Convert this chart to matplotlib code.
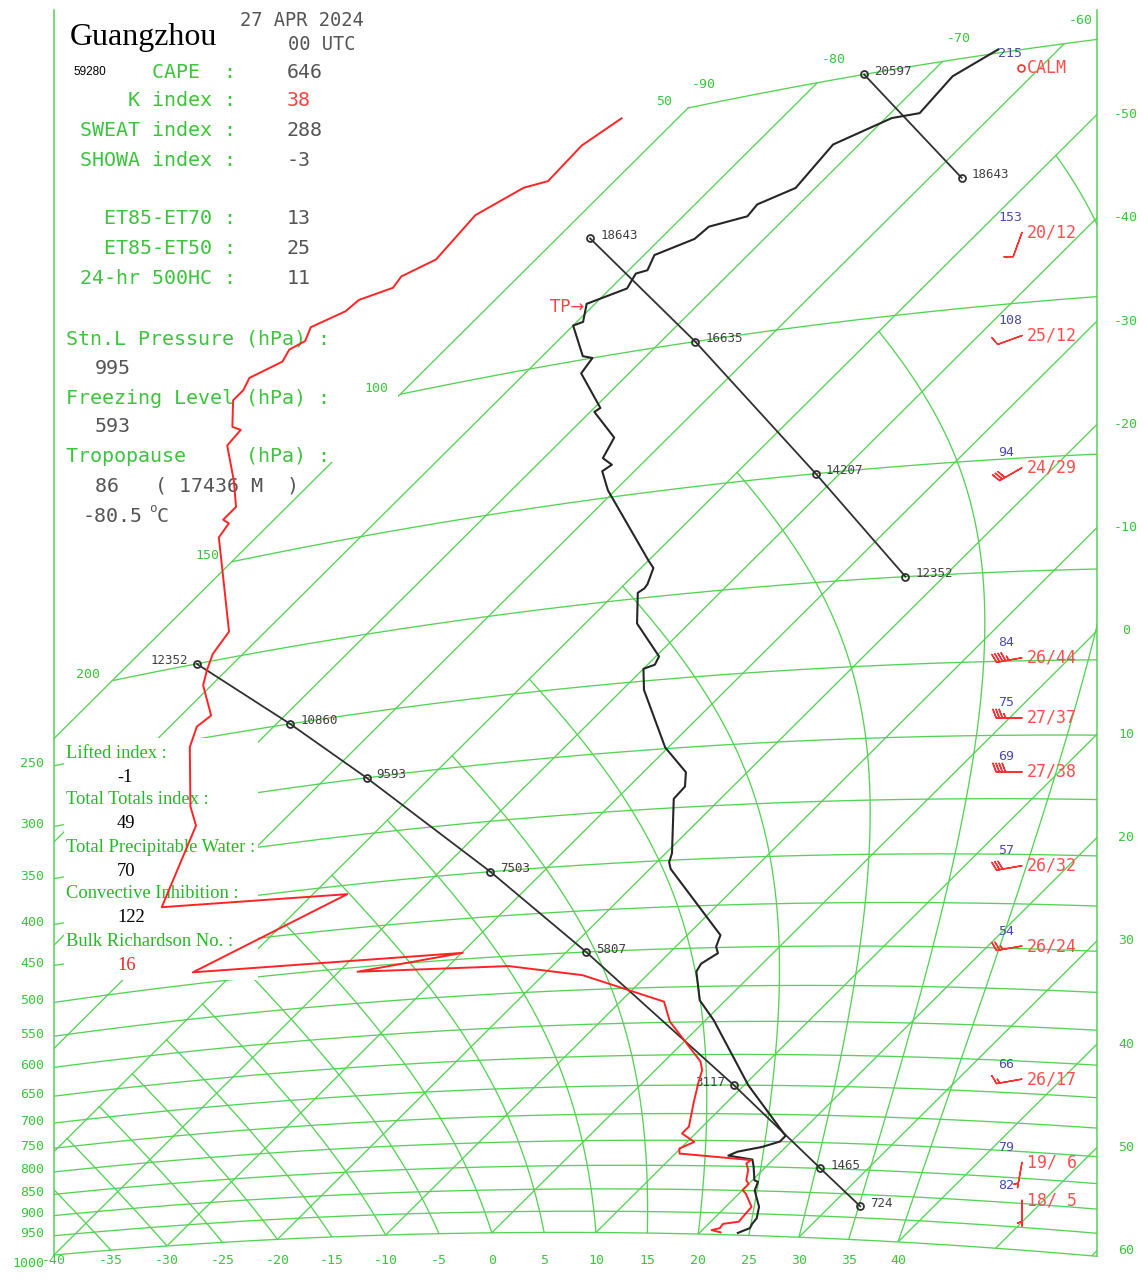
import numpy as np
import matplotlib
matplotlib.use("Agg")
import matplotlib.pyplot as plt
from matplotlib.path import Path
from matplotlib.patches import Rectangle

# ---- Guangzhou 59280, 27 APR 2024 00 UTC sounding ----
temp_p = [995, 988, 983, 973, 960, 934, 913, 899, 881, 878, 850, 836, 829, 821, 811, 800, 789,
          700, 598, 569, 546, 530, 520, 507, 499, 485, 409, 402, 393, 342, 332, 320, 299,
          256, 242, 240, 235, 214, 197, 195, 193, 185, 181, 147, 139, 137, 134, 127, 117, 116,
          104, 100, 99, 90, 89.5, 85, 83, 79.8, 79.5, 76.3, 74.3, 72.2, 71.4, 69.3, 67.3,
          60.4, 57.5, 57.4, 52.4, 49.5]
temp_t = [23.7, 24.1, 24.4, 24.2, 24.1, 23.2, 22.0, 21.2, 20.7, 20.2, 18.8, 18.0, 15.3, 15.8, 17.7, 18.9, 18.9,
          10.4, 0.8, -2.5, -4.3, -5.6, -5.9, -5.3, -6.1, -6.8, -18.0, -18.8, -19.4, -24.5, -24.6, -25.9, -30.3,
          -37.9, -40.0, -39.3, -39.7, -45.0, -47.9, -47.7, -47.8, -48.8, -50.0, -60.7, -63.1, -62.8, -64.3, -65.2, -69.6, -69.4,
          -74.6, -75.0, -76.1, -80.0, -79.4, -80.8, -78.4, -79.0, -78.2, -79.0, -76.7, -76.5, -73.8, -74.0, -71.9,
          -72.5, -69.4, -67.2, -67.6, -65.8]

dewp_p = [995, 990, 985, 975, 969, 935, 907, 899, 886, 878, 857, 844, 837, 826, 816, 803, 787, 774,
          732, 697, 675, 661, 599, 570, 530, 513, 506, 492, 484, 410, 399, 321, 303, 255, 241, 235,
          214, 205, 196, 185, 138, 133, 131, 127, 117, 104, 100, 98.4, 90.4, 88.2, 85.2, 83.0, 80.3,
          79.1, 76.0, 74.2, 72.3, 71.4, 69.3, 67.4, 60.3, 57.3, 57.1, 52.3, 49.4]
dewp_t = [22.0, 20.9, 21.5, 21.4, 22.7, 22.5, 20.7, 20.0, 20.0, 19.4, 18.6, 17.8, 17.9, 10.4, 9.9, 10.7, 8.7, 8.7,
          6.9, 5.4, 4.5, 3.5, -3.3, -5.8, -16.2, -24.2, -38.2, -29.9, -54.0, -46.7, -63.3, -67.9, -70.3, -76.1, -77.4, -77.1,
          -80.8, -81.9, -82.9, -83.5, -93.6, -94.0, -94.9, -94.9, -97.6, -101.7, -101.9, -103.0, -105.5, -105.5, -106.1, -104.5, -105.0,
          -104.3, -105.1, -103.3, -103.1, -101.0, -101.3, -99.6, -100.1, -98.1, -96.4, -96.6, -95.4]

# standard-level heights, drawn as a wrapped line (three pieces)
hgt_p1 = [925, 850, 700, 500, 400, 300, 250, 200]
hgt_z1 = [724, 1465, 3117, 5807, 7503, 9593, 10860, 12352]
hgt_t1 = [32.9, 25.4, 9.0, -18.1, -35.1, -56.1, -68.7, -83.5]
hgt_p2 = [200, 150, 100, 70]
hgt_z2 = [12352, 14207, 16635, 18643]
hgt_t2 = [-23.7, -42.3, -66.7, -86.8]
hgt_p3 = [70, 50]
hgt_z3 = [18643, 20597]
hgt_t3 = [-56.9, -76.3]

wind_p = [50, 70, 100, 150, 200, 250, 300, 400, 500, 700, 850, 925]
wind_dir = [0, 200, 250, 240, 260, 270, 270, 260, 260, 260, 190, 180]
wind_spd = [0, 12, 12, 29, 44, 37, 38, 32, 24, 17, 6, 5]
wind_tag = [215, 153, 108, 94, 84, 75, 69, 57, 54, 66, 79, 82]

trop_p, trop_t = 86, -80.5

isobars = [1000, 950, 900, 850, 800, 750, 700, 650, 600, 550, 500, 450, 400, 350, 300, 250, 200, 150, 100, 50]
isotherms = list(range(-80, 61, 10))
moist_t0 = np.arange(-35, 41, 5)

index_rows = [("      CAPE  :", "646", "#555555"),
              ("    K index :", "38", "#ff4040"),
              ("SWEAT index :", "288", "#555555"),
              ("SHOWA index :", "-3", "#555555"),
              ("  ET85-ET70 :", "13", "#555555"),
              ("  ET85-ET50 :", "25", "#555555"),
              ("24-hr 500HC :", "11", "#555555")]
index_y = [72, 101, 131, 161, 219, 249, 279]

lower_rows = [("Lifted index :", "-1", "black"),
              ("Total Totals index :", "49", "black"),
              ("Total Precipitable Water :", "70", "black"),
              ("Convective Inhibition :", "122", "black"),
              ("Bulk Richardson No. :", "16", "#ff2020")]

# ---- tephigram geometry (pixel frame of the picture) ----
KAPPA = 0.2857
X0, Y0 = 491.8, 1232.8
A, B, C, D = 5.1883, 1454.0, 5.1696, -1446.0
XL, XR = 54, 1097

GRID = "#55d255"
GTXT = "#3cc43c"
MONO = "DejaVu Sans Mono"
SERIF = "Liberation Serif"
CHAR_W = 0.602 * 14.4 * 100 / 72   # mono advance at 14.4 pt


def teph(t, p):
    t = np.asarray(t, float)
    p = np.asarray(p, float)
    lth = np.log((t + 273.15) / 273.15) + KAPPA * np.log(1000.0 / p)
    return X0 + A * t + B * lth, Y0 + C * t + D * lth


def t_at_x(p, xt):
    tg = np.linspace(-140, 90, 4001)
    xg, _ = teph(tg, p)
    return np.interp(xt, xg, tg)


def p_at_x(t, xt):
    pg = np.geomspace(1100, 20, 4001)
    xg, _ = teph(t, pg)
    return np.interp(xt, xg, pg)


def sat_lapse(tk, p):
    tc = tk - 273.15
    es = 6.112 * np.exp(17.67 * tc / (tc + 243.5))
    rs = 0.622 * es / (p - es)
    num = 287.04 * tk + 2.501e6 * rs
    den = 1005.7 + 2.501e6 ** 2 * rs * 0.622 / (287.04 * tk * tk)
    return num / den / p


fig = plt.figure(figsize=(11.44, 12.81), dpi=100)
ax = fig.add_axes([0, 0, 1, 1])
ax.set_xlim(0, 1144)
ax.set_ylim(1281, 0)
ax.axis("off")

# clip region of the grid
tb = np.linspace(t_at_x(1000, XL), t_at_x(1000, XR), 300)
tt = np.linspace(t_at_x(50, XR), -90, 200)
pv = np.geomspace(50, p_at_x(-90, XL), 200)
bx, by = teph(tb, 1000)
tx, ty = teph(tt, 50)
vx, vy = teph(-90, pv)
verts = np.vstack([np.column_stack([bx, by]), np.column_stack([tx, ty]),
                   np.column_stack([vx, vy]), [[bx[0], by[0]]]])
clip = Path(verts, closed=True)


def grid_line(x, y, clipped=True):
    ln, = ax.plot(x, y, color=GRID, lw=0.95, zorder=1)
    if clipped:
        ln.set_clip_path(clip, ax.transData)


# boundary lines
grid_line(bx, by, False)
grid_line(tx, ty, False)
grid_line(vx, vy, False)
ax.plot([XL, XL], [10, by[0]], color=GRID, lw=1.1, zorder=1)
ax.plot([XR, XR], [10, by[-1]], color=GRID, lw=1.1, zorder=1)

for p in isobars[1:-1]:
    x, y = teph(np.linspace(-100, 75, 400), p)
    grid_line(x, y)
for t in isotherms:
    x, y = teph(t, np.geomspace(1050, 40, 120))
    grid_line(x, y)

# saturated adiabats from 1000 hPa up to the -50 C isotherm
pm = np.linspace(1000, 50, 1901)
tk = np.empty((len(pm), len(moist_t0)))
tk[0] = moist_t0 + 273.15
for i in range(1, len(pm)):
    dp = pm[i] - pm[i - 1]
    k1 = sat_lapse(tk[i - 1], pm[i - 1])
    k2 = sat_lapse(tk[i - 1] + dp * k1, pm[i])
    tk[i] = tk[i - 1] + 0.5 * dp * (k1 + k2)
for j in range(len(moist_t0)):
    tc = tk[:, j] - 273.15
    keep = tc >= -50
    n = np.argmin(keep) if not keep.all() else len(tc)
    pp = list(pm[:n])
    ts = list(tc[:n])
    if n < len(tc):
        f = (ts[-1] + 50) / (ts[-1] - tc[n])
        pp.append(pp[-1] + f * (pm[n] - pp[-1]))
        ts.append(-50.0)
    x, y = teph(ts, pp)
    grid_line(x, y)

# white panels behind the text blocks
ax.add_patch(Rectangle((64, 738), 194, 242, facecolor="white", edgecolor="none", zorder=2))
ax.add_patch(Rectangle((300, 388), 98, 74, facecolor="white", edgecolor="none", zorder=2))

# axis labels
for p in isobars[:16]:
    yl = teph(t_at_x(p, XL), p)[1]
    ax.text(44, yl + (9 if p == 1000 else -2), str(p), color=GTXT, fontsize=9.5, family=MONO,
            ha="right", va="center", zorder=3)
for p in [200, 150, 100, 50]:
    x, y = teph(-90, p)
    ax.text(x - 24, y - 6, str(p), color=GTXT, fontsize=9.5, family=MONO, ha="center", va="center", zorder=3)
for t in range(-40, 41, 5):
    x = teph(t, 1000)[0]
    ax.text(x, 1261, str(t), color=GTXT, fontsize=9.5, family=MONO, ha="center", va="center", zorder=3)
for t in range(-50, 61, 10):
    pg = np.geomspace(1100, 20, 4001)
    xg, yg = teph(t, pg)
    ax.text(1126, np.interp(XR, xg, yg), str(t), color=GTXT, fontsize=9.5, family=MONO,
            ha="center", va="center", zorder=3)
for t in [-90, -80, -70, -60]:
    x, y = teph(t, 50)
    ax.text(x + 16, y - 23, str(t), color=GTXT, fontsize=9.5, family=MONO, ha="center", va="center", zorder=3)

# height line with standard-level dots
hy = {}
for seg, (hp, hz, ht) in enumerate([(hgt_p1, hgt_z1, hgt_t1), (hgt_p2, hgt_z2, hgt_t2), (hgt_p3, hgt_z3, hgt_t3)]):
    x, y = teph(ht, hp)
    ax.plot(x, y, color="#303030", lw=1.3, zorder=4)
    ax.plot(x, y, "o", ms=5, mfc="none", mec="#303030", mew=1.3, zorder=5)
    for xi, yi, p, z in zip(x, y, hp, hz):
        left = seg == 0 and z in (3117, 12352)
        ax.text(xi - 9 if left else xi + 10, yi - 3, str(z), color="#404040", fontsize=9, family=MONO,
                ha="right" if left else "left", va="center", zorder=5)
        if seg == 0 or (seg == 1 and p != 200) or (seg == 2 and p == 50):
            hy[p] = yi

# temperature and dew point
x, y = teph(temp_t, temp_p)
ax.plot(x, y, color="#262626", lw=1.5, zorder=6)
x, y = teph(dewp_t, dewp_p)
ax.plot(x, y, color="#ff2424", lw=1.4, zorder=6)
x, y = teph(trop_t, trop_p)
ax.text(x - 1, y - 1, "TP\u2192", color="#ff4040", fontsize=12, family="DejaVu Sans",
        ha="right", va="center", zorder=7)

# winds
wx, wy, wu, wv = [], [], [], []
for p, d, s, tag in zip(wind_p, wind_dir, wind_spd, wind_tag):
    yb = hy[p] - 6
    ax.text(998, yb - 15, str(tag), color="#4a4aa8", fontsize=9.5, family=MONO, ha="left", va="center", zorder=7)
    if s == 0:
        ax.plot(1021, yb, "o", ms=5, mfc="none", mec="#ff3030", mew=1.2, zorder=7)
        ax.text(1027, yb, "CALM", color="#ff4d4d", fontsize=12, family=MONO, ha="left", va="center", zorder=7)
        continue
    wx.append(1022)
    wy.append(yb)
    wu.append(-s * np.sin(np.radians(d)))
    wv.append(-s * np.cos(np.radians(d)))
    ax.text(1027, yb, "%2d/%2d" % (d // 10, s), color="#ff4d4d", fontsize=12, family=MONO,
            ha="left", va="center", zorder=7)
ax.barbs(wx, wy, wu, wv, length=6.1, color="#ff3030", lw=1.0, zorder=7,
         sizes=dict(spacing=0.12, height=0.33, width=0.25))

# header and index text
ax.text(70, 45, "Guangzhou", family=SERIF, fontsize=23, color="black", ha="left", va="baseline")
ax.text(240, 20, "27 APR 2024", family=MONO, fontsize=13.5, color="#555555", ha="left", va="center")
ax.text(288, 44, "00 UTC", family=MONO, fontsize=13.5, color="#555555", ha="left", va="center")
ax.text(73, 72, "59280", family="Liberation Sans", fontsize=8.5, color="black", ha="left", va="center")
for (lab, val, col), yy in zip(index_rows, index_y):
    lead = len(lab) - len(lab.lstrip())
    ax.text(80 + lead * CHAR_W, yy, lab.lstrip(), family=MONO, fontsize=14.4, color=GTXT, ha="left", va="center")
    ax.text(287, yy, val, family=MONO, fontsize=14.4, color=col, ha="left", va="center")

ax.text(66, 339, "Stn.L Pressure (hPa) :", family=MONO, fontsize=14.4, color=GTXT, ha="left", va="center", zorder=3)
ax.text(95, 368, "995", family=MONO, fontsize=14.4, color="#555555", ha="left", va="center", zorder=3)
ax.text(66, 398, "Freezing Level (hPa) :", family=MONO, fontsize=14.4, color=GTXT, ha="left", va="center", zorder=3)
ax.text(95, 427, "593", family=MONO, fontsize=14.4, color="#555555", ha="left", va="center", zorder=3)
ax.text(66, 457, "Tropopause     (hPa) :", family=MONO, fontsize=14.4, color=GTXT, ha="left", va="center", zorder=3)
ax.text(95, 486, "86   ( 17436 M  )", family=MONO, fontsize=14.4, color="#555555", ha="left", va="center", zorder=3)
ax.text(83, 517, "-80.5", family=MONO, fontsize=14.4, color="#555555", ha="left", va="center", zorder=3)
ax.text(149, 508, "o", family=MONO, fontsize=9, color="#555555", ha="left", va="center", zorder=3)
ax.text(157, 517, "C", family=MONO, fontsize=14.4, color="#555555", ha="left", va="center", zorder=3)

for k, (lab, val, col) in enumerate(lower_rows):
    y0 = 753 + 47 * k
    ax.text(66, y0, lab, family=SERIF, fontsize=13.3, color="#22bb22", ha="left", va="center", zorder=3)
    ax.text(117, y0 + 24, val, family=SERIF, fontsize=13.3, color=col, ha="left", va="center", zorder=3)

fig.savefig("out.png", dpi=100, facecolor="white")
